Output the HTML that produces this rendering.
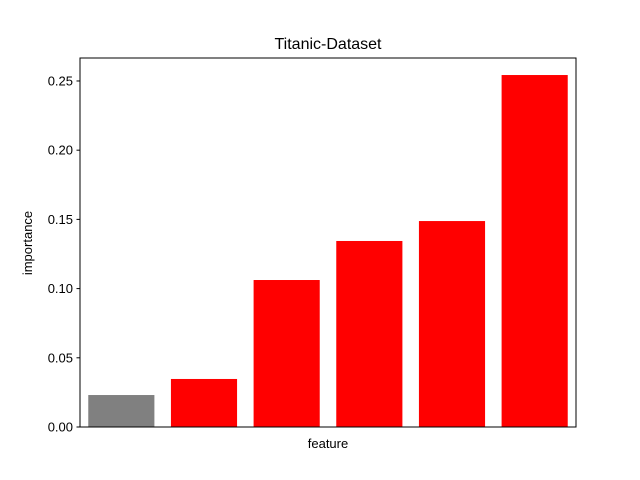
<!DOCTYPE html>
<html><head><meta charset="utf-8"><style>
html,body{margin:0;padding:0;background:#fff;}
svg{display:block;font-family:"Liberation Sans","DejaVu Sans",sans-serif;}
</style></head><body>
<svg id="chart" width="640" height="480" viewBox="0 0 640 480">
<rect width="640" height="480" fill="#fff"/>
<text x="328" y="49" text-anchor="middle" font-size="16" fill="#000">Titanic-Dataset</text>
<text x="328" y="448" text-anchor="middle" font-size="13" fill="#000">feature</text>
<text transform="translate(32,243) rotate(-90)" text-anchor="middle" font-size="13" fill="#000">importance</text>
<g id="bars"></g>
<g id="yticks"></g>
<rect x="80" y="58" width="496" height="369" fill="none" stroke="#000" stroke-width="1"/>
</svg>
<script>
const categories = ["f1","f2","f3","f4","f5","f6"];
const values = [0.0231, 0.0347, 0.1062, 0.1344, 0.1488, 0.2543];
const barColors = ["#808080","#ff0000","#ff0000","#ff0000","#ff0000","#ff0000"];
const yTicks = [0, 0.05, 0.10, 0.15, 0.20, 0.25];
const yTickLabels = ["0.00","0.05","0.10","0.15","0.20","0.25"];

const L=80,R=576,T=58,B=427, yMax=0.2666, xMin=-0.5, xMax=5.5;
const ns="http://www.w3.org/2000/svg";
function xs(v){return L+(v-xMin)/(xMax-xMin)*(R-L);}
function ys(v){return B-v/yMax*(B-T);}
const gb=document.getElementById("bars");
values.forEach((v,i)=>{
  const r=document.createElementNS(ns,"rect");
  const x0=xs(i-0.4), x1=xs(i+0.4);
  r.setAttribute("x",x0); r.setAttribute("width",x1-x0);
  r.setAttribute("y",ys(v)); r.setAttribute("height",B-ys(v));
  r.setAttribute("fill",barColors[i]);
  
  
  gb.appendChild(r);
});
const gt=document.getElementById("yticks");
yTicks.forEach((t,i)=>{
  const y=ys(t);
  const l=document.createElementNS(ns,"line");
  l.setAttribute("x1",L-3.5); l.setAttribute("x2",L); l.setAttribute("y1",y); l.setAttribute("y2",y);
  l.setAttribute("stroke","#000");
  
  
  gt.appendChild(l);
  const tx=document.createElementNS(ns,"text");
  tx.setAttribute("x",L-7); tx.setAttribute("y",y+4.5);
  tx.setAttribute("text-anchor","end"); tx.setAttribute("font-size","13");
  tx.textContent=yTickLabels[i];
  
  
  gt.appendChild(tx);
});
</script>
</body></html>
